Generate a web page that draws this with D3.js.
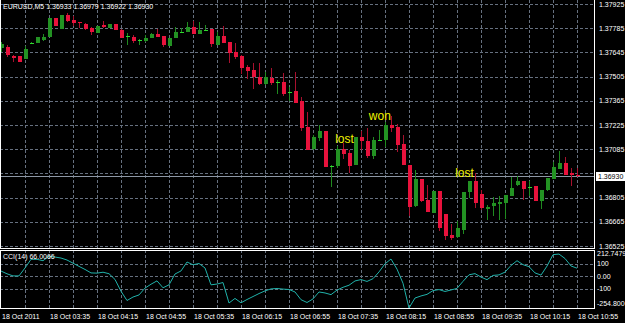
<!DOCTYPE html>
<html>
<head>
<meta charset="utf-8">
<script src="https://cdn.jsdelivr.net/npm/d3@7"></script>
<style>
    html, body { margin: 0; padding: 0; background: #000; }
    svg { display: block; }
    text { font-family: "Liberation Sans", Arial, sans-serif; font-size: 7px; fill: #fff; }
</style>
</head>
<body>
<svg id="chart" width="625" height="323"></svg>
<script>
// EURUSD M5, 18 Oct 2011 02:55 .. 10:55, one entry per bar
const symbol = "EURUSD,M5";

const opens = [
    1.37670, 1.37679, 1.37626, 1.37624, 1.37607, 1.37698, 1.37701, 1.37717, 1.37736, 1.37844,
    1.37780, 1.37861, 1.37832, 1.37821, 1.37812, 1.37788, 1.37759, 1.37803, 1.37788, 1.37812,
    1.37777, 1.37734, 1.37734, 1.37715, 1.37711, 1.37731, 1.37754, 1.37740, 1.37682, 1.37730,
    1.37761, 1.37763, 1.37792, 1.37753, 1.37772, 1.37779, 1.37688, 1.37741, 1.37705, 1.37647,
    1.37627, 1.37560, 1.37543, 1.37504, 1.37462, 1.37497, 1.37470, 1.37475, 1.37416, 1.37422,
    1.37364, 1.37215, 1.37083, 1.37152, 1.37192, 1.36986, 1.36988, 1.37086, 1.37063, 1.36994,
    1.37154, 1.37132, 1.37046, 1.37137, 1.37138, 1.37225, 1.37213, 1.37113, 1.36994, 1.36752,
    1.36911, 1.36791, 1.36720, 1.36845, 1.36710, 1.36589, 1.36573, 1.36617, 1.36839, 1.36903,
    1.36824, 1.36739, 1.36756, 1.36768, 1.36776, 1.36814, 1.36878, 1.36903, 1.36866, 1.36872,
    1.36785, 1.36849, 1.36911, 1.36975, 1.37007, 1.36946, 1.36933];

const highs = [
    1.37705, 1.37688, 1.37630, 1.37624, 1.37682, 1.37708, 1.37734, 1.37751, 1.37844, 1.37844,
    1.37861, 1.37871, 1.37858, 1.37821, 1.37815, 1.37792, 1.37798, 1.37825, 1.37812, 1.37812,
    1.37780, 1.37759, 1.37747, 1.37720, 1.37746, 1.37757, 1.37779, 1.37740, 1.37731, 1.37790,
    1.37784, 1.37823, 1.37824, 1.37818, 1.37802, 1.37780, 1.37765, 1.37798, 1.37707, 1.37698,
    1.37628, 1.37572, 1.37585, 1.37585, 1.37533, 1.37553, 1.37485, 1.37523, 1.37447, 1.37532,
    1.37385, 1.37302, 1.37170, 1.37225, 1.37192, 1.36994, 1.37103, 1.37121, 1.37080, 1.37154,
    1.37189, 1.37206, 1.37154, 1.37196, 1.37242, 1.37275, 1.37233, 1.37167, 1.36994, 1.36962,
    1.36911, 1.36878, 1.36845, 1.36845, 1.36710, 1.36652, 1.36671, 1.36839, 1.36903, 1.36947,
    1.36849, 1.36762, 1.36806, 1.36814, 1.36820, 1.36922, 1.36930, 1.36903, 1.36903, 1.36872,
    1.36849, 1.36920, 1.37011, 1.37075, 1.37042, 1.36975, 1.36979];

const lows = [
    1.37647, 1.37621, 1.37589, 1.37589, 1.37604, 1.37695, 1.37699, 1.37711, 1.37734, 1.37795,
    1.37780, 1.37821, 1.37798, 1.37788, 1.37775, 1.37746, 1.37757, 1.37786, 1.37786, 1.37775,
    1.37731, 1.37690, 1.37701, 1.37690, 1.37705, 1.37728, 1.37734, 1.37678, 1.37682, 1.37728,
    1.37760, 1.37763, 1.37751, 1.37753, 1.37769, 1.37678, 1.37688, 1.37699, 1.37585, 1.37605,
    1.37520, 1.37494, 1.37431, 1.37459, 1.37459, 1.37456, 1.37406, 1.37394, 1.37364, 1.37354,
    1.37190, 1.37080, 1.37080, 1.37132, 1.36984, 1.36868, 1.36975, 1.37028, 1.36946, 1.36994,
    1.37080, 1.37032, 1.37027, 1.37137, 1.37098, 1.37185, 1.37070, 1.36994, 1.36698, 1.36752,
    1.36780, 1.36722, 1.36719, 1.36613, 1.36560, 1.36560, 1.36573, 1.36594, 1.36803, 1.36745,
    1.36736, 1.36675, 1.36698, 1.36675, 1.36681, 1.36814, 1.36872, 1.36791, 1.36814, 1.36785,
    1.36737, 1.36846, 1.36911, 1.36975, 1.36936, 1.36872, 1.36922];

const closes = [
    1.37694, 1.37630, 1.37615, 1.37589, 1.37665, 1.37701, 1.37734, 1.37734, 1.37844, 1.37798,
    1.37861, 1.37824, 1.37815, 1.37813, 1.37783, 1.37766, 1.37798, 1.37790, 1.37809, 1.37775,
    1.37732, 1.37737, 1.37713, 1.37717, 1.37730, 1.37754, 1.37736, 1.37688, 1.37730, 1.37765,
    1.37763, 1.37794, 1.37753, 1.37775, 1.37776, 1.37694, 1.37741, 1.37701, 1.37644, 1.37618,
    1.37556, 1.37537, 1.37503, 1.37462, 1.37501, 1.37466, 1.37472, 1.37408, 1.37418, 1.37355,
    1.37208, 1.37083, 1.37154, 1.37192, 1.36984, 1.36990, 1.37088, 1.37057, 1.36988, 1.37154,
    1.37128, 1.37044, 1.37136, 1.37138, 1.37225, 1.37210, 1.37109, 1.36994, 1.36752, 1.36911,
    1.36781, 1.36723, 1.36845, 1.36633, 1.36583, 1.36573, 1.36627, 1.36839, 1.36903, 1.36776,
    1.36743, 1.36752, 1.36772, 1.36781, 1.36820, 1.36862, 1.36903, 1.36859, 1.36868, 1.36785,
    1.36849, 1.36920, 1.36980, 1.37007, 1.36936, 1.36936, 1.36930];

// CCI(14) per bar
const cci = [
    43.2, 20.8, 4, 4, 68, 137.6, 137.6, 126.4, 162.4, 156,
    148, 132, 106.4, 80.8, 56, 28, 26.4, 33.6, 21.6, -24.8,
    -120, -194.4, -166.4, -149.6, -94.4, -63.2, -36, -92, -68, 19.2,
    44, 116, 93.6, 104, 68, -68, -61.6, -49.6, -214.4, -177.6,
    -212.8, -186.4, -162.4, -138.4, -116.8, -100.8, -97.6, -102.4, -105.6, -125.6,
    -188, -210.4, -181.6, -125.6, -133.6, -147.2, -110.4, -88, -71.2, -36.8,
    -25.6, -40.8, -18.4, 36, 101.6, 140, 58.4, -55.2, -254.8, -174.4,
    -157.6, -144.8, -114.4, -106.4, -121.6, -109.6, -96.8, -40, 12.8, 22.4,
    -5.6, -26.4, 8, 12, 34.4, 88, 126.4, 94.4, 78.4, 28,
    10.4, 83.2, 175.2, 180, 144, 84, 66.0066];

const priceTicks = [1.37925, 1.37785, 1.37645, 1.37505, 1.37365, 1.37225, 1.37085, 1.36945, 1.36805, 1.36665, 1.36525];
const cciTicks = [212.7479, 100, 0, -100, -254.8];
const cciTickLabels = ["212.7479", "100", "0.00", "-100", "-254.800"];
const cciLevels = [100, 0, -100];

const timeLabels = ["18 Oct 2011", "18 Oct 03:35", "18 Oct 04:15", "18 Oct 04:55", "18 Oct 05:35",
    "18 Oct 06:15", "18 Oct 06:55", "18 Oct 07:35", "18 Oct 08:15", "18 Oct 08:55",
    "18 Oct 09:35", "18 Oct 10:15", "18 Oct 10:55"];
const timeLabelBars = [0, 8, 16, 24, 32, 40, 48, 56, 64, 72, 80, 88, 96];

// trade marks written on the chart
const notes = ["lost", "won", "lost"];
const noteBars = [55.7, 61.3, 75.7];
const notePrices = [1.37121, 1.37254, 1.36924];

const svg = d3.select("#chart");
const W = 625, H = 323;
const plotRight = 594;
const mainBottom = 248;
const subTop = 250, subBottom = 308;

const gridColor = "#66707f";
const upBody = "#239223", upWick = "#1f8a1f", upDoji = "#2fd82f";
const downBody = "#e8123c", downWick = "#a8102e";

svg.append("rect").attr("width", W).attr("height", H).attr("fill", "#000");

const x = d3.scaleLinear().domain([0, opens.length - 1]).range([1, 577]);
const y = d3.scaleLinear().domain([1.36525, 1.37925]).range([246, 4]);
const yc = d3.scaleLinear().domain([-254.8, 212.7479]).range([subBottom, subTop]);

const px = v => Math.round(v) + 0.5;

// grid
const gridBars = d3.range(4, opens.length, 4);
const grid = svg.append("g")
    .attr("stroke", gridColor)
    .attr("stroke-dasharray", "3,2")
    .attr("shape-rendering", "crispEdges");

grid.selectAll(".vmain").data(gridBars).join("line")
    .attr("x1", d => px(x(d))).attr("x2", d => px(x(d)))
    .attr("y1", 0).attr("y2", mainBottom);
grid.selectAll(".vsub").data(gridBars).join("line")
    .attr("class", "vsub")
    .attr("x1", d => px(x(d))).attr("x2", d => px(x(d)))
    .attr("y1", subTop).attr("y2", subBottom);
grid.selectAll(".hmain").data(priceTicks).join("line")
    .attr("class", "hmain")
    .attr("x1", 0).attr("x2", plotRight)
    .attr("y1", d => px(y(d))).attr("y2", d => px(y(d)));
grid.selectAll(".hsub").data(cciLevels).join("line")
    .attr("class", "hsub")
    .attr("x1", 0).attr("x2", plotRight)
    .attr("y1", d => px(yc(d))).attr("y2", d => px(yc(d)));

// bid line
const last = closes.length - 1;
const bidY = px(y(closes[last]));
svg.append("line")
    .attr("x1", 0).attr("x2", plotRight)
    .attr("y1", bidY).attr("y2", bidY)
    .attr("stroke", "#8c96a4")
    .attr("shape-rendering", "crispEdges");

// candles
const bars = d3.range(opens.length).map(i => ({i: i, o: opens[i], h: highs[i], l: lows[i], c: closes[i]}));
const candles = svg.append("g").attr("shape-rendering", "crispEdges");

candles.selectAll(".wick").data(bars).join("line")
    .attr("class", "wick")
    .attr("x1", d => px(x(d.i))).attr("x2", d => px(x(d.i)))
    .attr("y1", d => y(d.h)).attr("y2", d => y(d.l))
    .attr("stroke", d => d.c >= d.o ? upWick : downWick);

candles.selectAll(".body").data(bars).join("rect")
    .attr("class", "body")
    .attr("x", d => Math.round(x(d.i)) - 1)
    .attr("width", 4)
    .attr("y", d => Math.round(y(Math.max(d.o, d.c))))
    .attr("height", d => Math.max(1, Math.round(Math.abs(y(d.o) - y(d.c)))))
    .attr("fill", d => {
        if (d.c >= d.o) return Math.abs(y(d.o) - y(d.c)) < 1.5 ? upDoji : upBody;
        return downBody;
    });

// notes
svg.selectAll(".note").data(notes).join("text")
    .attr("class", "note")
    .attr("x", (d, i) => x(noteBars[i]))
    .attr("y", (d, i) => y(notePrices[i]))
    .style("font-size", "12px")
    .style("fill", "#f2f200")
    .text(d => d);

// CCI line
svg.append("path")
    .datum(cci)
    .attr("d", d3.line().x((d, i) => x(i)).y(d => yc(d)))
    .attr("fill", "none")
    .attr("stroke", "#20b2aa")
    .attr("stroke-width", 1);

// window frames
const frame = svg.append("g").attr("stroke", "#fff").attr("shape-rendering", "crispEdges");
frame.append("line").attr("x1", 0.5).attr("x2", 0.5).attr("y1", 0).attr("y2", mainBottom + 0.5);
frame.append("line").attr("x1", plotRight + 0.5).attr("x2", plotRight + 0.5).attr("y1", 0).attr("y2", mainBottom + 0.5);
frame.append("line").attr("x1", 0).attr("x2", plotRight + 1).attr("y1", mainBottom + 0.5).attr("y2", mainBottom + 0.5);
frame.append("line").attr("x1", 0).attr("x2", plotRight + 1).attr("y1", subTop + 0.5).attr("y2", subTop + 0.5);
frame.append("line").attr("x1", 0).attr("x2", plotRight + 1).attr("y1", subBottom + 0.5).attr("y2", subBottom + 0.5);
frame.append("line").attr("x1", 0.5).attr("x2", 0.5).attr("y1", subTop).attr("y2", subBottom + 0.5);
frame.append("line").attr("x1", plotRight + 0.5).attr("x2", plotRight + 0.5).attr("y1", subTop).attr("y2", subBottom + 0.5);

// price scale
const fmt5 = d3.format(".5f");
svg.selectAll(".ptick").data(priceTicks.filter(p => Math.abs(y(p) - bidY) > 6)).join("text")
    .attr("class", "ptick")
    .attr("x", 599)
    .attr("y", d => y(d) + 2.5)
    .text(d => fmt5(d));

svg.append("rect")
    .attr("x", 596).attr("y", bidY - 4.5)
    .attr("width", 29).attr("height", 9)
    .attr("fill", "#fff");
svg.append("text")
    .attr("x", 598).attr("y", bidY + 2.5)
    .style("fill", "#000")
    .text(fmt5(closes[last]));

// cci scale
svg.selectAll(".ctick").data(cciTicks).join("text")
    .attr("class", "ctick")
    .attr("x", 597)
    .attr("y", (d, i) => {
        if (i === 0) return yc(d) + 6;
        if (i === cciTicks.length - 1) return yc(d) - 2;
        return yc(d) + 2.5;
    })
    .text((d, i) => cciTickLabels[i]);

// time axis
svg.selectAll(".ttick").data(timeLabels).join("text")
    .attr("class", "ttick")
    .attr("x", (d, i) => x(timeLabelBars[i]) + 1)
    .attr("y", 318.5)
    .text(d => d);

// headers
svg.append("text")
    .attr("x", 3).attr("y", 9)
    .text(symbol + "  " + [opens[last], highs[last], lows[last], closes[last]].map(fmt5).join(" "));
svg.append("text")
    .attr("x", 3).attr("y", 258.5)
    .text("CCI(14) " + d3.format(".4f")(cci[cci.length - 1]));
</script>
</body>
</html>
